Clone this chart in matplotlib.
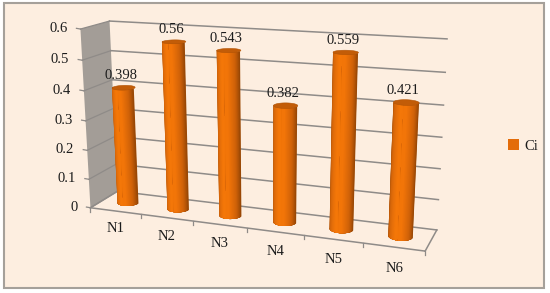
import numpy as np
import matplotlib
matplotlib.use("Agg")
import matplotlib.pyplot as plt
from matplotlib.colors import LinearSegmentedColormap
from matplotlib.patches import Patch, Polygon, Rectangle

categories = ["N1", "N2", "N3", "N4", "N5", "N6"]
ci = [0.398, 0.56, 0.543, 0.382, 0.559, 0.421]
yticks = [0, 0.1, 0.2, 0.3, 0.4, 0.5, 0.6]
ytick_labels = ["0", "0.1", "0.2", "0.3", "0.4", "0.5", "0.6"]
series_name = "Ci"

BG = "#fdeee0"
FRAME = "#a5a09a"
GRID = "#8f8b88"
WALL = "#a39d97"
TEXT = "#1c1c1c"
FONT = "Liberation Serif"

# box corners (category, value, depth) -> picture pixels, used to fit the camera
box_3d = [(0, 0, 0), (6, 0, 0), (0, 0, 1), (6, 0, 1), (0, 0.6, 1), (6, 0.6, 1), (0, 0.6, 0)]
box_px = [(91, 207), (425, 252), (117, 192), (437, 229), (110, 21), (447, 39), (80, 29)]


def fit_camera(pts3, pts2):
    rows = []
    for (u, v, d), (x, y) in zip(pts3, pts2):
        rows.append([u, v, d, 1, 0, 0, 0, 0, -x * u, -x * v, -x * d, -x])
        rows.append([0, 0, 0, 0, u, v, d, 1, -y * u, -y * v, -y * d, -y])
    _, _, vt = np.linalg.svd(np.array(rows, dtype=float))
    return vt[-1].reshape(3, 4)


cam = fit_camera(box_3d, box_px)


def proj(u, v, d):
    u, v, d = np.broadcast_arrays(u, v, d)
    w = np.stack([u, v, d, np.ones_like(u, dtype=float)], axis=-1) @ cam.T
    return w[..., 0] / w[..., 2], w[..., 1] / w[..., 2]


def side(xb, yb, xt, yt, a, b):
    # outline of the cylinder surface between two steps of the sweep
    return np.column_stack([np.r_[xb[a:b + 1], xt[a:b + 1][::-1]],
                            np.r_[yb[a:b + 1], yt[a:b + 1][::-1]]])


plt.rcParams["font.family"] = [FONT, "DejaVu Serif"]
fig = plt.figure(figsize=(5.5, 2.93), dpi=100)
ax = fig.add_axes([0, 0, 1, 1])

ax.add_patch(Rectangle((4, 3), 540, 285, fc=BG, ec=FRAME, lw=1.5, zorder=0))

# side wall
wall = [proj(0, 0, 0), proj(0, 0.6, 0), proj(0, 0.6, 1), proj(0, 0, 1)]
ax.add_patch(Polygon(wall, fc=WALL, ec="none", zorder=1))

# gridlines on back wall and side wall
for t, lab in zip(yticks, ytick_labels):
    x, y = proj(np.array([0, 6]), t, 1)
    ax.plot(x, y, color=GRID, lw=1.1, zorder=2)
    x, y = proj(0, t, np.array([0, 1]))
    ax.plot(x, y, color=GRID, lw=0.9, zorder=2)
    x, y = proj(0, t, 0)
    ax.plot([x - 4, x], [y - 0.7, y], color=GRID, lw=0.9, zorder=2)
    ax.text(x - 13, y - 0.5, lab, ha="right", va="center", fontsize=10.5, color=TEXT, zorder=6)

# floor edges
for a, b in [((0, 0, 0), (6, 0, 0)), ((6, 0, 0), (6, 0, 1)), ((0, 0, 0), (0, 0, 1))]:
    p, q = proj(*a), proj(*b)
    ax.plot([p[0], q[0]], [p[1], q[1]], color=GRID, lw=1.1, zorder=2)
for i in range(7):
    x, y = proj(i, 0, 0)
    ax.plot([x, x], [y, y + 4], color=GRID, lw=0.9, zorder=2)

# cylinders, painted as layers closing in on the middle so the outer edges stay smooth
shade = LinearSegmentedColormap.from_list(
    "cyl", ["#9c4a06", "#d5660a", "#f47708", "#f27508", "#cf6108", "#8f4305"])
RU, RD = 0.2, 0.2
theta = np.linspace(np.pi, 0, 33)
n = len(theta) - 1
mid = n // 2
for i, val in enumerate(ci):
    uc = i + 0.5
    uu = uc + RU * np.cos(theta)
    dd = 0.5 - RD * np.sin(theta)
    xb, yb = proj(uu, 0, dd)
    xt, yt = proj(uu, val, dd)
    ax.add_patch(Polygon(side(xb, yb, xt, yt, 0, n), fc=shade(0.0), ec="none", zorder=3))
    for k in range(1, mid):
        ax.add_patch(Polygon(side(xb, yb, xt, yt, k, mid), fc=shade(k / n), ec="none", zorder=3))
    for k in range(n - 1, mid - 1, -1):
        ax.add_patch(Polygon(side(xb, yb, xt, yt, mid, k), fc=shade(k / n), ec="none", zorder=3))
    ring = np.linspace(0, 2 * np.pi, 60)
    xr, yr = proj(uc + RU * np.cos(ring), val, 0.5 + RD * np.sin(ring))
    ax.add_patch(Polygon(np.column_stack([xr, yr]), fc="#c25c08", ec="#b25406", lw=0.4, zorder=4))
    x, y = proj(uc, val, 0.5)
    ax.text(x - 3, y - 12, str(val), ha="center", va="center", fontsize=10.5, color=TEXT, zorder=6)

# category labels
for i, name in enumerate(categories):
    x, y = proj(i + 0.5, 0, -0.75)
    ax.text(x + 22 - 2 * i, y + 4, name, ha="center", va="center", fontsize=10.5, color=TEXT, zorder=6)

leg = ax.legend(handles=[Patch(fc="#e36c0a", ec="none", label=series_name)],
                loc="center left", bbox_to_anchor=(508 / 550, 1 - 146 / 293), frameon=False,
                fontsize=10.5, handlelength=0.75, handleheight=0.75, handletextpad=0.35,
                borderpad=0, borderaxespad=0)
for t in leg.get_texts():
    t.set_color(TEXT)

ax.set_xlim(0, 550)
ax.set_ylim(293, 0)
ax.axis("off")

fig.savefig("out.png", dpi=100, facecolor="white")
